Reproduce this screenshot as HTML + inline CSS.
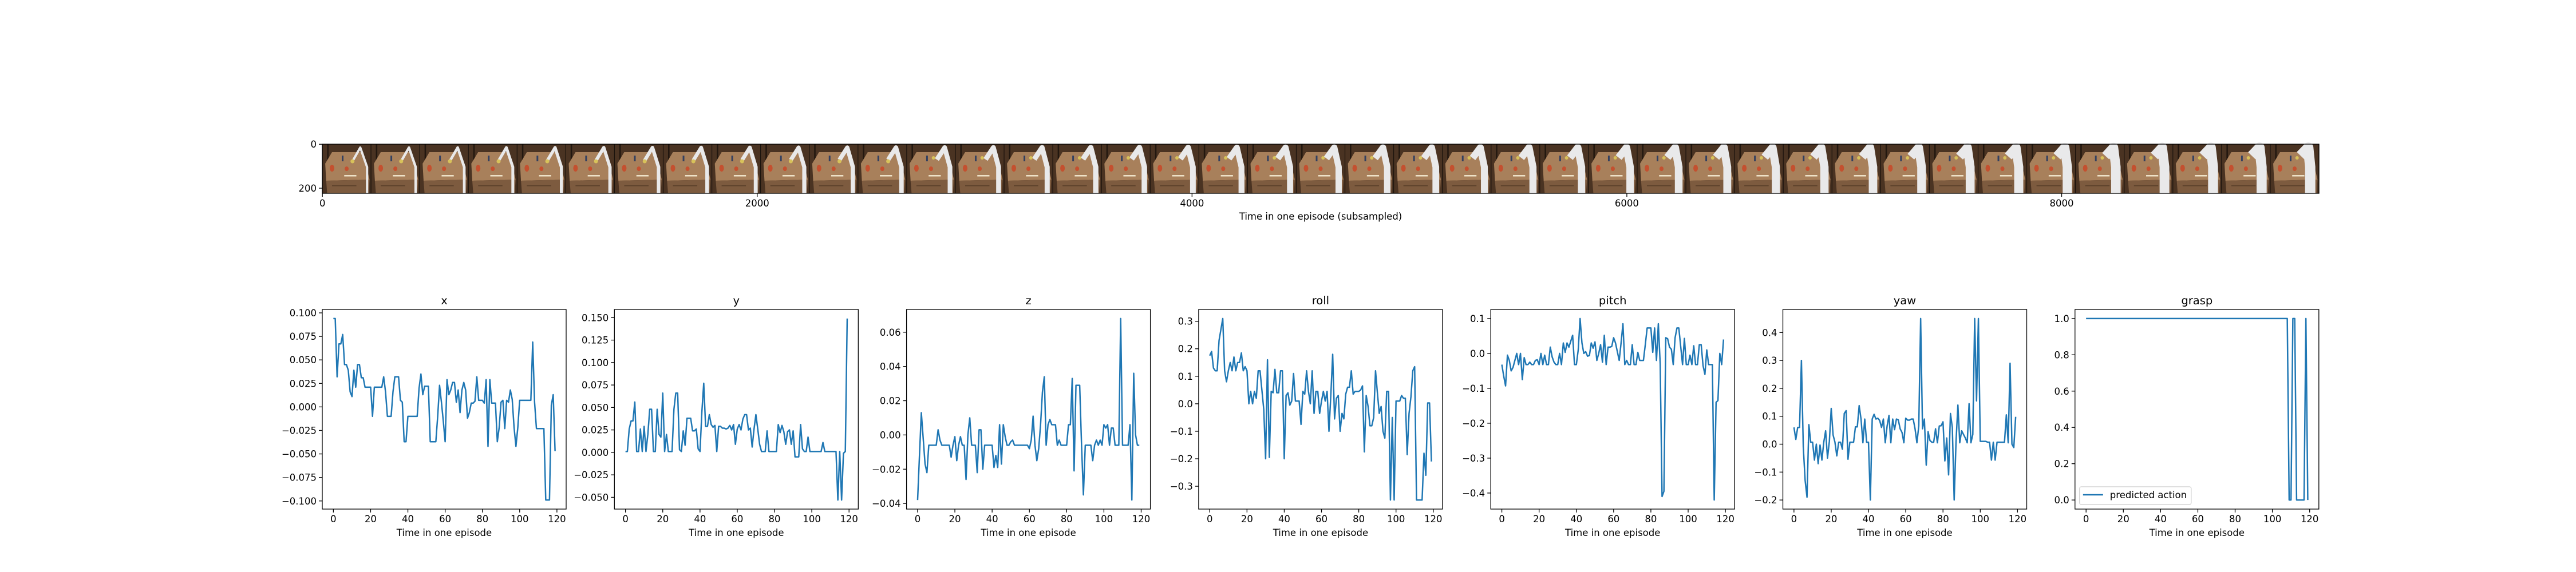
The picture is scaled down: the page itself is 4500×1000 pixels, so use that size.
<!DOCTYPE html>
<html><head><meta charset="utf-8">
<style>
html,body{margin:0;padding:0;background:#fff;}
svg{display:block;font-family:"DejaVu Sans","Liberation Sans",sans-serif;}
</style></head>
<body>
<svg id="fig" width="4500" height="1000" viewBox="0 0 4500 1000" xmlns="http://www.w3.org/2000/svg">
<rect width="4500" height="1000" fill="#fff"/>
<g id="strip"></g>
<g id="panels"></g>
</svg>
<script>
const NS="http://www.w3.org/2000/svg";
const panelTitles=["x","y","z","roll","pitch","yaw","grasp"];
const xTicks=[0,20,40,60,80,100,120];
const seriesX=[0.094,0.094,0.032,0.067,0.067,0.077,0.045,0.045,0.039,0.016,0.011,0.039,0.021,0.045,0.045,0.031,0.031,0.021,0.021,0.021,0.021,-0.010,0.021,0.021,0.021,0.021,0.021,0.032,0.016,-0.010,-0.010,-0.010,0.016,0.032,0.032,0.032,0.007,0.005,-0.037,-0.037,-0.010,-0.010,-0.010,-0.010,-0.010,-0.010,0.020,0.035,0.013,0.022,0.022,0.022,-0.037,-0.037,-0.037,-0.037,-0.010,0.023,0.005,-0.015,-0.037,0.029,0.013,0.018,0.026,0.026,0.005,0.018,-0.006,0.018,0.026,0.018,-0.012,-0.006,0.004,0.004,0.006,0.032,0.007,0.007,0.007,0.004,0.029,-0.042,0.029,0.004,0.004,0.004,-0.037,-0.022,0.005,0.007,-0.023,0.007,0.005,0.018,0.008,-0.022,-0.042,-0.022,0.007,0.007,0.007,0.007,0.007,0.007,0.007,0.069,0.005,-0.023,-0.023,-0.023,-0.023,-0.023,-0.099,-0.099,-0.099,0.002,0.013,-0.047];
const seriesY=[0.001,0.001,0.026,0.035,0.035,0.056,0.001,0.001,0.026,0.001,0.029,0.001,0.020,0.048,0.048,0.001,0.001,0.048,0.020,0.017,0.066,0.001,0.020,0.001,0.001,0.001,0.048,0.066,0.066,0.003,0.001,0.024,0.008,0.038,0.038,0.038,0.024,0.024,0.026,0.004,0.001,0.045,0.077,0.029,0.029,0.042,0.031,0.028,0.030,0.001,0.029,0.029,0.027,0.027,0.026,0.027,0.030,0.025,0.031,0.009,0.026,0.031,0.025,0.037,0.042,0.042,0.025,0.027,0.006,0.026,0.042,0.026,0.009,0.001,0.001,0.001,0.024,0.001,0.001,0.001,0.001,0.001,0.031,0.022,0.030,0.023,0.009,0.023,0.025,0.009,0.024,-0.005,-0.005,-0.005,0.031,0.004,0.001,0.001,0.017,0.001,0.001,0.001,0.001,0.001,0.001,0.001,0.011,0.001,0.001,0.001,0.001,0.001,0.001,0.001,-0.053,0.001,-0.053,-0.001,0.001,0.149];
const seriesZ=[-0.038,-0.012,0.013,-0.002,-0.017,-0.022,-0.006,-0.006,-0.006,-0.006,-0.006,0.003,-0.003,-0.006,-0.006,-0.006,-0.006,-0.006,-0.013,-0.006,-0.001,-0.015,-0.006,-0.001,-0.006,-0.006,-0.026,0.000,0.010,-0.006,-0.006,-0.006,-0.022,0.003,0.003,-0.020,-0.006,-0.006,-0.006,-0.006,-0.006,-0.019,-0.012,-0.019,0.006,-0.017,0.006,-0.001,-0.006,-0.006,-0.004,-0.003,-0.006,-0.006,-0.006,-0.006,-0.006,-0.006,-0.006,-0.006,-0.008,-0.003,0.011,-0.006,-0.015,-0.008,0.006,0.025,0.034,-0.006,0.006,0.009,0.006,0.006,0.006,-0.006,-0.003,-0.006,-0.006,-0.006,-0.006,0.006,0.006,0.033,-0.021,0.029,0.029,0.029,-0.006,-0.035,-0.006,-0.006,-0.006,-0.006,-0.015,-0.006,-0.003,-0.006,-0.003,-0.006,0.006,0.004,0.006,-0.006,0.004,0.004,-0.006,-0.006,-0.006,0.068,-0.006,-0.006,-0.006,-0.006,0.006,-0.038,0.036,0.000,-0.006,-0.006];
const seriesRoll=[0.175,0.19,0.13,0.12,0.12,0.23,0.27,0.31,0.12,0.08,0.12,0.15,0.12,0.17,0.12,0.15,0.15,0.185,0.12,0.135,0.12,0.00,0.045,0.00,0.045,0.02,0.12,0.12,0.05,-0.02,-0.20,0.16,-0.195,0.045,0.04,0.125,0.04,0.04,0.12,0.12,-0.20,0.03,0.04,-0.005,0.01,0.11,0.01,0.01,0.01,-0.075,0.045,0.035,0.12,0.045,0.00,0.12,-0.035,0.045,0.045,-0.035,0.01,0.045,0.01,0.045,-0.10,0.03,0.18,-0.055,0.02,0.03,-0.10,-0.035,-0.055,0.035,0.06,0.06,0.12,0.035,0.045,0.045,0.045,0.05,0.065,-0.175,0.03,-0.01,-0.08,-0.08,-0.05,0.12,0.04,-0.035,-0.01,-0.10,-0.125,0.045,0.045,-0.35,-0.05,-0.35,0.01,0.01,0.01,0.03,0.02,0.02,-0.185,-0.035,0.025,0.12,0.135,-0.35,-0.35,-0.35,-0.35,-0.18,-0.26,0.003,0.003,-0.21];
const seriesPitch=[-0.032,-0.065,-0.093,-0.005,-0.02,-0.05,-0.04,-0.02,0.0,-0.032,0.0,-0.075,-0.012,-0.032,-0.032,-0.025,-0.032,-0.032,-0.02,-0.018,-0.032,0.0,-0.032,-0.005,-0.032,-0.032,0.018,-0.01,-0.025,-0.032,-0.032,0.0,-0.032,0.03,0.003,0.03,0.018,0.035,0.052,-0.032,-0.032,0.01,0.1,0.03,0.0,0.005,-0.008,-0.006,0.03,0.015,0.033,-0.02,0.0,0.025,-0.025,0.052,-0.032,0.018,0.018,0.02,0.045,0.03,0.005,-0.02,0.03,0.085,-0.032,-0.02,-0.032,-0.032,0.025,-0.032,-0.032,0.003,-0.02,-0.02,-0.02,0.025,0.073,0.073,0.073,0.003,0.073,-0.02,0.085,-0.03,-0.41,-0.395,0.045,0.042,0.018,0.012,-0.032,0.045,0.073,0.073,0.02,-0.032,0.043,-0.032,-0.032,-0.005,-0.032,0.022,-0.032,-0.032,0.025,0.025,-0.035,-0.06,0.01,-0.032,-0.032,-0.032,-0.42,-0.14,-0.135,0.0,-0.032,0.04];
const seriesYaw=[0.06,0.017,0.06,0.06,0.30,-0.01,-0.13,-0.19,0.07,0.007,0.007,-0.057,0.0,-0.07,-0.003,-0.057,0.007,0.048,-0.05,0.01,0.128,0.033,0.007,-0.042,0.007,0.007,-0.018,0.11,0.12,-0.054,0.007,0.007,0.007,0.062,0.062,0.138,0.09,0.005,0.09,0.007,0.007,-0.20,0.09,0.107,0.09,0.093,0.085,0.06,0.09,0.005,0.065,0.103,0.005,0.09,0.052,0.09,0.087,0.055,0.042,0.005,0.093,0.086,0.086,0.09,0.09,0.055,0.005,0.065,0.45,0.055,0.09,-0.075,0.045,0.013,0.007,0.007,0.055,0.005,0.065,0.066,0.08,-0.06,0.022,-0.11,0.11,0.06,-0.20,0.01,0.14,0.005,0.048,0.035,0.022,0.005,0.145,0.005,0.035,0.45,0.155,0.45,0.01,0.01,0.01,0.01,0.007,0.007,-0.057,0.007,-0.057,0.007,0.007,0.007,0.007,0.007,0.105,0.005,0.29,0.0,-0.012,0.098];
const seriesGrasp=[1,1,1,1,1,1,1,1,1,1,1,1,1,1,1,1,1,1,1,1,1,1,1,1,1,1,1,1,1,1,1,1,1,1,1,1,1,1,1,1,1,1,1,1,1,1,1,1,1,1,1,1,1,1,1,1,1,1,1,1,1,1,1,1,1,1,1,1,1,1,1,1,1,1,1,1,1,1,1,1,1,1,1,1,1,1,1,1,1,1,1,1,1,1,1,1,1,1,1,1,1,1,1,1,1,1,1,1,1,0,0,1,1,0,0,0,0,0,1,0];
const yTicksX=[-0.1,-0.075,-0.05,-0.025,0,0.025,0.05,0.075,0.1];
const yTicksY=[-0.05,-0.025,0,0.025,0.05,0.075,0.1,0.125,0.15];
const yTicksZ=[-0.04,-0.02,0,0.02,0.04,0.06];
const yTicksRoll=[-0.3,-0.2,-0.1,0,0.1,0.2,0.3];
const yTicksPitch=[-0.4,-0.3,-0.2,-0.1,0,0.1];
const yTicksYaw=[-0.2,-0.1,0,0.1,0.2,0.3,0.4];
const yTicksGrasp=[0,0.2,0.4,0.6,0.8,1.0];
const yDecimals=[3,3,2,1,1,1,1];
const stripTicks=[0,2000,4000,6000,8000];
const stripYTicks=[0,200];
const frameCount=41;

const allSeries=[seriesX,seriesY,seriesZ,seriesRoll,seriesPitch,seriesYaw,seriesGrasp];
const allYTicks=[yTicksX,yTicksY,yTicksZ,yTicksRoll,yTicksPitch,yTicksYaw,yTicksGrasp];

function el(tag,attrs,parent){const e=document.createElementNS(NS,tag);for(const k in attrs)e.setAttribute(k,attrs[k]);if(parent)parent.appendChild(e);return e;}
function fmt(v,d){const s=Math.abs(v).toFixed(d);return (v<-1e-12?"\u2212":"")+s;}

/* ---------- image strip ---------- */
const strip=document.getElementById('strip');
const SL=563,SR=4051,ST=252,SB=338;
const frameW=224, totalW=frameCount*frameW;
const sx=v=>SL+(v+0.5)/totalW*(SR-SL);
const sy=v=>ST+(v+0.5)/224*(SB-ST);
const fw=(SR-SL)/frameCount;
for(let k=0;k<frameCount;k++){
  const x0=SL+k*fw;
  const g=el('g',{},strip);
  
  
  el('rect',{x:x0,y:ST,width:fw+0.5,height:SB-ST,fill:'#4a3322'},g);
  el('rect',{x:x0+fw*0.1,y:ST,width:fw*0.03,height:SB-ST,fill:'#22170f'},g);
  el('polygon',{points:`${x0+fw*0.06},${ST+34} ${x0+fw*0.2},${ST+14} ${x0+fw*0.84},${ST+14} ${x0+fw*0.97},${ST+62} ${x0+fw*0.08},${ST+64}`,fill:'#a8805b'},g);
  el('polygon',{points:`${x0+fw*0.08},${ST+64} ${x0+fw*0.97},${ST+62} ${x0+fw*0.95},${SB} ${x0+fw*0.1},${SB}`,fill:'#7d5b3f'},g);
  el('rect',{x:x0+fw*0.2,y:ST+72,width:fw*0.5,height:1.5,fill:'#5a3f2a'},g);
  el('ellipse',{cx:x0+fw*0.2,cy:ST+42,rx:4,ry:6,fill:'#c4502f'},g);
  el('ellipse',{cx:x0+fw*0.5,cy:ST+43,rx:3.5,ry:4,fill:'#c4502f'},g);
  el('rect',{x:x0+fw*0.4,y:ST+20,width:3,height:10,fill:'#334060'},g);
  el('rect',{x:x0+fw*0.45,y:ST+54,width:fw*0.25,height:2.5,fill:'#eee2c8'},g);
  const t=k/(frameCount-1);
  const armW=4+t*14;
  const baseX=x0+fw*(0.92-0.1*t);
  el('path',{d:`M${x0+fw*0.62},${ST+20+10*(1-t)} L${x0+fw*0.78},${ST+6} L${baseX},${ST+40} L${baseX},${SB}`,fill:'none',stroke:'#e9e9ea','stroke-width':armW,'stroke-linejoin':'round'},g);
  if(k<12)el('circle',{cx:x0+fw*0.62,cy:ST+30,r:3.5,fill:'#d8c25a'},g);
  else el('circle',{cx:x0+fw*0.55,cy:ST+24,r:3,fill:'#d8c25a'},g);
  el('line',{x1:x0,y1:ST,x2:x0,y2:SB,stroke:'#1a120c','stroke-width':1.2},g);
}
const sframe=el('rect',{x:SL,y:ST,width:SR-SL,height:SB-ST,fill:'none',stroke:'#000','stroke-width':1.3},strip);


stripTicks.forEach(v=>{
  el('line',{x1:sx(v),y1:SB,x2:sx(v),y2:SB+6,stroke:'#000','stroke-width':1.3},strip);
  const t=el('text',{x:sx(v),y:SB+23,'font-size':16.5,'text-anchor':'middle',fill:'#000'},strip);
  t.textContent=String(v);
  
  
});
stripYTicks.forEach(v=>{
  el('line',{x1:SL-6,y1:sy(v),x2:SL,y2:sy(v),stroke:'#000','stroke-width':1.3},strip);
  const t=el('text',{x:SL-10,y:sy(v)+6,'font-size':16.5,'text-anchor':'end',fill:'#000'},strip);
  t.textContent=String(v);
  
  
});
const sxl=el('text',{x:(SL+SR)/2,y:384,'font-size':16.5,'text-anchor':'middle',fill:'#000'},strip);
sxl.textContent='Time in one episode (subsampled)';



/* ---------- panels ---------- */
const panels=document.getElementById('panels');
const PT=541,PB=890,PW=426,step=510.3,P0=563;
allSeries.forEach((data,p)=>{
  const L=P0+p*step,R=L+PW;
  const g=el('g',{},panels);
  
  
  const n=data.length;
  const xmin=0-(n-1)*0.05,xmax=(n-1)*1.05;
  let lo=Math.min(...data),hi=Math.max(...data);
  const m=(hi-lo)*0.05; lo-=m; hi+=m;
  const X=v=>L+(v-xmin)/(xmax-xmin)*PW;
  const Y=v=>PB-(v-lo)/(hi-lo)*(PB-PT);
  const ttl=el('text',{x:(L+R)/2,y:PT-9,'font-size':19.5,'text-anchor':'middle',fill:'#000'},g);
  ttl.textContent=panelTitles[p];
  
  
  xTicks.forEach(v=>{
    el('line',{x1:X(v),y1:PB,x2:X(v),y2:PB+6,stroke:'#000','stroke-width':1.3},g);
    const t=el('text',{x:X(v),y:PB+23,'font-size':16.5,'text-anchor':'middle',fill:'#000'},g);
    t.textContent=String(v);
    
    
  });
  allYTicks[p].forEach(v=>{
    if(v<lo||v>hi)return;
    el('line',{x1:L-6,y1:Y(v),x2:L,y2:Y(v),stroke:'#000','stroke-width':1.3},g);
    const t=el('text',{x:L-10,y:Y(v)+6,'font-size':16.5,'text-anchor':'end',fill:'#000'},g);
    t.textContent=fmt(v,yDecimals[p]);
    
    
  });
  const xl=el('text',{x:(L+R)/2,y:PB+47,'font-size':16.5,'text-anchor':'middle',fill:'#000'},g);
  xl.textContent='Time in one episode';
  
  
  const pts=data.map((v,i)=>X(i).toFixed(2)+','+Y(v).toFixed(2)).join(' ');
  const line=el('polyline',{points:pts,fill:'none',stroke:'#1f77b4','stroke-width':2.5,'stroke-linejoin':'round'},g);
  
  
  const fr=el('rect',{x:L,y:PT,width:PW,height:PB-PT,fill:'none',stroke:'#000','stroke-width':1.3},g);
  
  
  if(p===6){
    const lg=el('g',{},g);
    
    
    el('rect',{x:L+8,y:851,width:195,height:31,rx:3,fill:'#fff','fill-opacity':0.8,stroke:'#ccc','stroke-width':1.2},lg);
    el('line',{x1:L+14,y1:865,x2:L+49,y2:865,stroke:'#1f77b4','stroke-width':2.5},lg);
    const lt=el('text',{x:L+61,y:871,'font-size':16.5,fill:'#000'},lg);
    lt.textContent='predicted action';
    
    
  }
});
</script>
</body></html>
